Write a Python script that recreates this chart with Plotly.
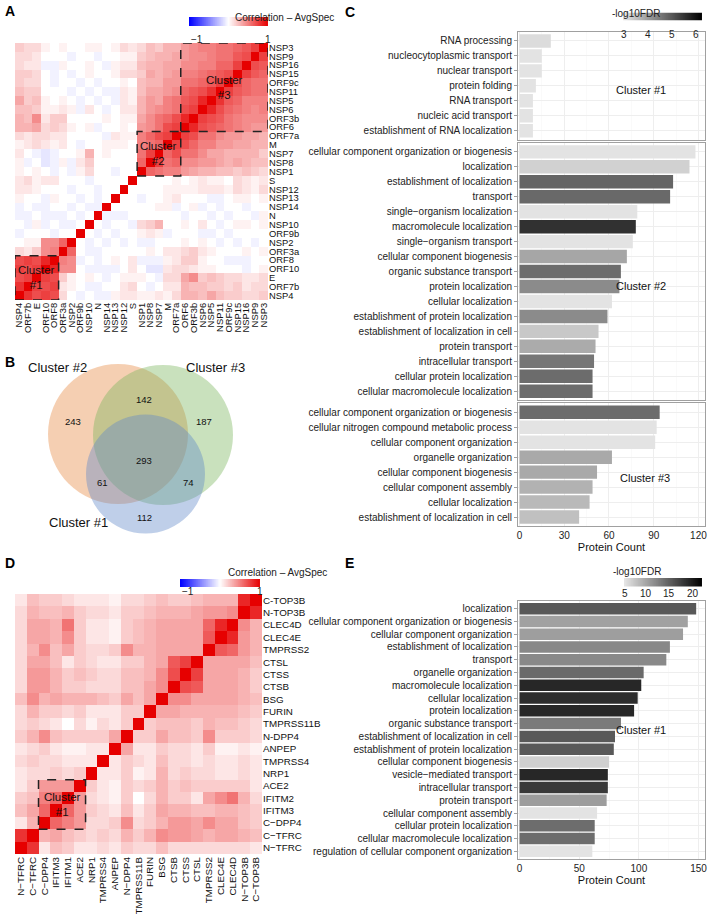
import numpy as np
import plotly.graph_objects as go

W, H = 709, 914
FONT = "Liberation Sans, Arial, Helvetica, sans-serif"


def px(x):
    return x / W


def py(y):
    return 1 - y / H


# ---------------- Panel A data ----------------
a_labels = ["NSP4", "ORF7b", "E", "ORF10", "ORF8", "ORF3a", "NSP2", "ORF9b", "NSP10", "N",
            "NSP14", "NSP13", "NSP12", "S", "NSP1", "NSP8", "NSP7", "M", "ORF7a", "ORF6",
            "ORF3b", "NSP6", "NSP5", "NSP11", "ORF9c", "NSP15", "NSP16", "NSP9", "NSP3"]
a_lower = [
    [1],
    [0.8, 1],
    [0.7, 0.75, 1],
    [0.75, 0.7, 0.75, 1],
    [0.7, 0.75, 0.7, 0.85, 1],
    [0.15, 0.1, 0.2, 0.45, 0.5, 1],
    [0.0, 0.05, 0.05, 0.45, 0.45, 0.6, 1],
    [-0.05, 0.0, 0.0, 0.0, -0.05, 0.0, 0.0, 1],
    [0.0, -0.05, 0.05, -0.05, 0.0, -0.05, -0.05, 0.0, 1],
    [-0.05, -0.05, 0.0, -0.05, -0.05, -0.05, 0.0, -0.05, 0.0, 1],
    [-0.05, 0.0, -0.05, -0.05, 0.0, 0.0, -0.05, 0.0, -0.05, -0.05, 1],
    [0.05, 0.0, 0.0, -0.05, 0.05, 0.0, 0.0, -0.05, 0.0, -0.05, 0.0, 1],
    [0.1, 0.1, 0.05, 0.0, 0.0, 0.0, -0.05, 0.0, 0.0, -0.05, 0.0, 0.0, 1],
    [0.1, 0.15, 0.05, 0.1, 0.1, 0.0, 0.0, 0.0, -0.05, 0.0, 0.0, 0.0, 0.0, 1],
    [0.05, 0.0, 0.05, 0.0, -0.05, 0.0, -0.05, 0.05, 0.15, 0.0, 0.0, -0.05, 0.0, 0.0, 1],
    [0.05, -0.05, 0.0, -0.1, -0.05, 0.05, -0.05, 0.1, 0.2, 0.0, 0.0, 0.0, 0.0, 0.0, 0.6, 1],
    [0.1, 0.0, -0.05, -0.1, -0.05, 0.0, 0.0, 0.05, 0.3, 0.0, 0.05, 0.0, 0.0, 0.0, 0.55, 0.75, 1],
    [0.05, 0.1, 0.15, 0.1, 0.05, 0.1, 0.0, -0.05, 0.0, 0.0, 0.05, 0.05, 0.05, 0.0, 0.5, 0.55, 0.6, 1],
    [0.15, 0.1, 0.15, 0.15, 0.1, 0.1, 0.0, 0.0, 0.0, 0.0, -0.05, 0.1, 0.05, 0.05, 0.5, 0.6, 0.7, 0.75, 1],
    [0.3, 0.3, 0.35, 0.15, 0.2, 0.15, 0.05, 0.0, 0.05, -0.05, 0.0, 0.0, 0.05, 0.0, 0.4, 0.45, 0.55, 0.7, 0.75, 1],
    [0.3, 0.25, 0.45, 0.1, 0.2, 0.2, 0.0, 0.0, 0.0, 0.0, 0.05, 0.0, 0.05, 0.05, 0.35, 0.45, 0.55, 0.6, 0.7, 0.85, 1],
    [0.25, 0.25, 0.2, 0.05, 0.05, 0.1, 0.05, -0.05, 0.1, 0.0, -0.05, 0.0, 0.1, 0.1, 0.3, 0.4, 0.45, 0.5, 0.55, 0.7, 0.75, 1],
    [0.35, 0.2, 0.25, 0.05, 0.0, 0.05, 0.0, -0.05, 0.0, -0.05, 0.0, -0.05, 0.1, 0.05, 0.3, 0.4, 0.35, 0.5, 0.55, 0.65, 0.7, 0.85, 1],
    [0.25, 0.2, 0.2, 0.0, 0.0, 0.0, -0.05, 0.0, -0.05, 0.0, -0.05, -0.05, 0.1, 0.05, 0.25, 0.35, 0.35, 0.4, 0.45, 0.6, 0.65, 0.7, 0.8, 1],
    [0.2, 0.15, 0.15, 0.0, -0.05, 0.0, 0.0, -0.05, 0.0, -0.05, 0.0, 0.0, 0.05, 0.0, 0.25, 0.3, 0.3, 0.4, 0.4, 0.55, 0.55, 0.6, 0.65, 0.75, 1],
    [0.2, 0.2, 0.15, 0.0, -0.05, 0.0, -0.05, 0.0, 0.05, 0.0, 0.0, 0.05, 0.15, 0.15, 0.2, 0.35, 0.3, 0.35, 0.4, 0.5, 0.5, 0.55, 0.6, 0.65, 0.7, 1],
    [0.15, 0.1, 0.1, -0.05, -0.05, 0.05, 0.0, 0.0, 0.05, 0.0, -0.05, 0.05, 0.1, 0.1, 0.25, 0.3, 0.3, 0.35, 0.35, 0.45, 0.45, 0.5, 0.5, 0.6, 0.6, 0.75, 1],
    [0.15, 0.15, 0.1, 0.0, 0.0, 0.0, -0.05, 0.0, 0.0, -0.05, 0.0, 0.0, 0.05, 0.05, 0.2, 0.25, 0.3, 0.3, 0.35, 0.4, 0.45, 0.45, 0.5, 0.55, 0.55, 0.65, 0.7, 1],
    [0.2, 0.15, 0.15, 0.05, 0.0, 0.05, 0.0, 0.0, 0.05, 0.05, 0.0, 0.05, 0.15, 0.1, 0.15, 0.25, 0.2, 0.3, 0.3, 0.4, 0.45, 0.5, 0.5, 0.55, 0.55, 0.6, 0.65, 0.75, 1],
]
a_clusters = [("Cluster<br>#1", 0, 4), ("Cluster<br>#2", 14, 18), ("Cluster<br>#3", 19, 28)]

# ---------------- Panel D data ----------------
d_x_labels = ["N\u2212TFRC", "C\u2212TFRC", "C\u2212DPP4", "IFITM3", "IFITM1", "ACE2", "NRP1", "TMPRSS4",
              "ANPEP", "N\u2212DPP4", "TMPRSS11B", "FURIN", "BSG", "CTSB", "CTSS", "CTSL", "TMPRSS2",
              "CLEC4E", "CLEC4D", "N\u2212TOP3B", "C\u2212TOP3B"]
d_y_labels = ["N\u2212TFRC", "C\u2212TFRC", "C\u2212DPP4", "IFITM3", "IFITM2", "ACE2", "NRP1", "TMPRSS4",
              "ANPEP", "N-DPP4", "TMPRSS11B", "FURIN", "BSG", "CTSB", "CTSS", "CTSL", "TMPRSS2",
              "CLEC4E", "CLEC4D", "N-TOP3B", "C-TOP3B"]
d_lower = [
    [1],
    [0.8, 1],
    [0.1, 0.3, 1],
    [0.25, 0.35, 0.6, 1],
    [0.2, 0.25, 0.5, 0.6, 1],
    [0.1, 0.2, 0.4, 0.4, 0.4, 1],
    [0.1, 0.15, 0.15, 0.2, 0.15, 0.2, 1],
    [0.15, 0.2, 0.15, 0.15, 0.1, 0.1, 0.1, 1],
    [0.1, 0.15, 0.2, 0.1, 0.05, 0.05, 0.1, 0.1, 1],
    [0.2, 0.3, 0.45, 0.25, 0.2, 0.2, 0.2, 0.2, 0.35, 1],
    [0.15, 0.2, 0.15, 0.1, 0.0, 0.15, 0.05, 0.15, 0.1, 0.2, 1],
    [0.15, 0.3, 0.2, 0.2, 0.15, 0.2, 0.1, 0.1, 0.1, 0.2, 0.2, 1],
    [0.25, 0.45, 0.3, 0.35, 0.3, 0.3, 0.3, 0.25, 0.2, 0.35, 0.25, 0.35, 1],
    [0.15, 0.4, 0.4, 0.3, 0.2, 0.2, 0.15, 0.15, 0.15, 0.25, 0.25, 0.35, 0.45, 1],
    [0.15, 0.4, 0.4, 0.3, 0.2, 0.25, 0.2, 0.15, 0.15, 0.25, 0.25, 0.3, 0.45, 0.7, 1],
    [0.15, 0.35, 0.35, 0.25, 0.1, 0.2, 0.15, 0.1, 0.1, 0.2, 0.2, 0.3, 0.35, 0.65, 0.75, 1],
    [0.15, 0.3, 0.45, 0.25, 0.35, 0.2, 0.15, 0.15, 0.2, 0.45, 0.3, 0.3, 0.35, 0.35, 0.35, 0.35, 1],
    [0.15, 0.35, 0.35, 0.3, 0.45, 0.2, 0.1, 0.1, 0.05, 0.2, 0.25, 0.3, 0.35, 0.35, 0.35, 0.35, 0.65, 1],
    [0.15, 0.35, 0.35, 0.3, 0.55, 0.2, 0.1, 0.1, 0.05, 0.2, 0.25, 0.3, 0.35, 0.35, 0.35, 0.35, 0.6, 0.85, 1],
    [0.15, 0.3, 0.25, 0.25, 0.3, 0.2, 0.15, 0.15, 0.1, 0.2, 0.2, 0.25, 0.3, 0.3, 0.3, 0.35, 0.4, 0.4, 0.45, 1],
    [0.1, 0.25, 0.2, 0.2, 0.15, 0.1, 0.1, 0.1, 0.05, 0.15, 0.15, 0.2, 0.25, 0.2, 0.2, 0.25, 0.3, 0.3, 0.3, 0.85, 1],
]
d_clusters = [("Cluster<br>#1", 2, 5)]
corr_ticks = [-1, 1]
corr_ticktext = ["\u22121", "1"]

# ---------------- Panel B data ----------------
venn_sets = ["Cluster #2", "Cluster #3", "Cluster #1"]
venn_counts = [243, 142, 187, 293, 61, 74, 112]

# ---------------- Panel C data ----------------
c1_terms = ["RNA processing", "nucleocytoplasmic transport", "nuclear transport", "protein folding",
            "RNA transport", "nucleic acid transport", "establishment of RNA localization"]
c1_counts = [21, 15, 15, 11, 9, 9, 9]
c1_fdr = [2.9, 2.8, 2.8, 2.8, 2.8, 2.8, 2.8]

c2_terms = ["cellular component organization or biogenesis", "localization", "establishment of localization",
            "transport", "single\u2212organism localization", "macromolecule localization",
            "single\u2212organism transport", "cellular component biogenesis", "organic substance transport",
            "protein localization", "cellular localization", "establishment of protein localization",
            "establishment of localization in cell", "protein transport", "intracellular transport",
            "cellular protein localization", "cellular macromolecule localization"]
c2_counts = [118, 114, 103, 101, 79, 78, 76, 72, 68, 67, 62, 59, 53, 51, 50, 49, 49]
c2_fdr = [2.8, 3.05, 4.6, 4.55, 2.8, 5.35, 2.8, 3.67, 4.5, 4.05, 2.8, 4.05, 3.18, 3.6, 4.35, 4.5, 4.5]

c3_terms = ["cellular component organization or biogenesis", "cellular nitrogen compound metabolic process",
            "cellular component organization", "organelle organization", "cellular component biogenesis",
            "cellular component assembly", "cellular localization", "establishment of localization in cell"]
c3_counts = [94, 92, 91, 62, 52, 49, 47, 40]
c3_fdr = [4.5, 2.8, 2.8, 3.62, 3.62, 3.5, 3.4, 3.3]
c_ticks = [0, 30, 60, 90, 120]
c_fdr_range = [2.75, 6.05]
c_fdr_ticks = [3, 4, 5, 6]

# ---------------- Panel E data ----------------
e_terms = ["localization", "cellular component organization or biogenesis", "cellular component organization",
           "establishment of localization", "transport", "organelle organization", "macromolecule localization",
           "cellular localization", "protein localization", "organic substance transport",
           "establishment of localization in cell", "establishment of protein localization",
           "cellular component biogenesis", "vesicle\u2212mediated transport", "intracellular transport",
           "protein transport", "cellular component assembly", "cellular protein localization",
           "cellular macromolecule localization", "regulation of cellular component organization"]
e_counts = [148, 141, 137, 126, 123, 104, 102, 99, 96, 85, 80, 79, 75, 74, 74, 73, 65, 63, 63, 61]
e_fdr = [13.9, 8.7, 8.9, 10.5, 10.4, 12.6, 17.4, 17.0, 17.4, 11.5, 13.8, 13.8, 5.3, 17.4, 16.1, 9.0,
         4.0, 12.4, 12.4, 4.0]
e_ticks = [0, 50, 100, 150]
e_fdr_range = [3.75, 20.2]
e_fdr_ticks = [5, 10, 15, 20]


def full(lower):
    n = len(lower)
    m = np.zeros((n, n))
    for i, row in enumerate(lower):
        for j, v in enumerate(row):
            m[i, j] = v
            m[j, i] = v
    return m


HEAT_CS = [[0, "#0000ff"], [0.5, "#ffffff"], [1, "#e60000"]]
GRAY_CS = [[0, "#e6e6e6"], [1, "#000000"]]

fig = go.Figure()
layout = dict(
    width=W, height=H, margin=dict(l=0, r=0, t=0, b=0, autoexpand=False),
    paper_bgcolor="white", plot_bgcolor="white", showlegend=False,
    font=dict(family=FONT, size=10, color="#111"),
    bargap=0.1,
)
shapes = []
annotations = []

# Panel A heatmap
zA = full(a_lower)
nA = len(a_labels)
fig.add_trace(go.Heatmap(z=zA, x=list(range(nA)), y=list(range(nA)), colorscale=HEAT_CS, zmin=-1, zmax=1,
                         xaxis="x", yaxis="y", hoverinfo="skip", showscale=False))

# Panel D heatmap
zD = full(d_lower)
nD = len(d_x_labels)
fig.add_trace(go.Heatmap(z=zD, x=list(range(nD)), y=list(range(nD)), colorscale=HEAT_CS, zmin=-1, zmax=1,
                         xaxis="x2", yaxis="y2", hoverinfo="skip", showscale=False))

# Venn placeholder trace
fig.add_trace(go.Scatter(x=[0], y=[0], mode="markers", marker=dict(opacity=0), xaxis="x3", yaxis="y3",
                         hoverinfo="skip"))

# Panel C bars
for terms, counts, fdr, xa, ya in [(c1_terms, c1_counts, c1_fdr, "x4", "y4"),
                                   (c2_terms, c2_counts, c2_fdr, "x5", "y5"),
                                   (c3_terms, c3_counts, c3_fdr, "x6", "y6")]:
    fig.add_trace(go.Bar(x=counts, y=terms, orientation="h", xaxis=xa, yaxis=ya, hoverinfo="skip",
                         marker=dict(color=fdr, colorscale=GRAY_CS, cmin=c_fdr_range[0], cmax=c_fdr_range[1],
                                     showscale=False, line=dict(width=0))))

# Panel E bars
fig.add_trace(go.Bar(x=e_counts, y=e_terms, orientation="h", xaxis="x7", yaxis="y7", hoverinfo="skip",
                     marker=dict(color=e_fdr, colorscale=GRAY_CS, cmin=e_fdr_range[0], cmax=e_fdr_range[1],
                                 showscale=False, line=dict(width=0))))


# Hand-drawn colour keys (gradient strips on their own small axes, labels as annotations on top)
def add_key(idx, x0, x1, y0, y1, vrange, cs, tickvals, ticktext, title, title_x, title_y, label_y):
    grad = np.linspace(vrange[0], vrange[1], 200)
    span = vrange[1] - vrange[0]
    fig.add_trace(go.Heatmap(z=[grad], x=grad, y=[0], colorscale=cs, zmin=vrange[0], zmax=vrange[1],
                             showscale=False, hoverinfo="skip", xaxis=f"x{idx}", yaxis=f"y{idx}"))
    layout[f"xaxis{idx}"] = dict(domain=[px(x0), px(x1)], range=[vrange[0] - span * 0.002, vrange[1] + span * 0.002],
                                 ticks="", showticklabels=False, showgrid=False, zeroline=False, showline=False,
                                 anchor=f"y{idx}", fixedrange=True)
    layout[f"yaxis{idx}"] = dict(domain=[py(y1), py(y0)], range=[-0.5, 0.5], visible=False,
                                 anchor=f"x{idx}", fixedrange=True)
    annotations.append(dict(text=title, xref="paper", yref="paper", x=px(title_x), y=py(title_y),
                            showarrow=False, font=dict(size=10, color="#222")))
    texts = ticktext if ticktext else [str(v) for v in tickvals]
    for v, t in zip(tickvals, texts):
        xv = x0 + (v - vrange[0]) / span * (x1 - x0)
        annotations.append(dict(text=t, xref="paper", yref="paper", x=px(xv), y=py(label_y),
                                showarrow=False, font=dict(size=10, color="#222")))


add_key(8, 189, 268, 17, 26, [-1, 1], HEAT_CS, corr_ticks, corr_ticktext, "Correlation \u2013 AvgSpec",
        233, 10, 31.5)
add_key(9, 180, 260, 579, 587, [-1, 1], HEAT_CS, corr_ticks, corr_ticktext, "Correlation \u2013 AvgSpec",
        226, 572, 591.5)
add_key(10, 623, 702, 12.5, 20.5, c_fdr_range, GRAY_CS, c_fdr_ticks, None, "-log10FDR", 662, 6, 26.5)
add_key(11, 624, 702, 578, 586.5, e_fdr_range, GRAY_CS, e_fdr_ticks, None, "-log10FDR", 663, 571, 593)


def heat_axes(xd, yd, xlabels, ylabels, anchor_x, anchor_y, fs):
    n = len(xlabels)
    xa = dict(domain=xd, range=[-0.5, n - 0.5], tickvals=list(range(n)), ticktext=xlabels, tickangle=-90,
              showgrid=False, zeroline=False, showline=False, ticks="", anchor=anchor_y,
              ticklabeloverflow="allow", tickfont=dict(size=fs, color="#111"), fixedrange=True)
    ya = dict(domain=yd, range=[-0.5, n - 0.5], tickvals=list(range(n)), ticktext=ylabels, side="right",
              showgrid=False, zeroline=False, showline=False, ticks="", anchor=anchor_x,
              ticklabeloverflow="allow", tickfont=dict(size=fs, color="#111"), fixedrange=True)
    return xa, ya


layout["xaxis"], layout["yaxis"] = heat_axes([px(15), px(268)], [py(300), py(43)], a_labels, a_labels,
                                             "x", "y", 9.4)
layout["xaxis2"], layout["yaxis2"] = heat_axes([px(15), px(262)], [py(854), py(594)], d_x_labels, d_y_labels,
                                               "x2", "y2", 9.8)

# Venn axes (1 unit = 1 pixel)
layout["xaxis3"] = dict(domain=[0, px(330)], range=[0, 330], visible=False, anchor="y3", fixedrange=True)
layout["yaxis3"] = dict(domain=[py(560), py(340)], range=[560, 340], visible=False, anchor="x3", fixedrange=True)


def bar_y(domain, terms, anchor):
    n = len(terms)
    return dict(domain=domain, type="category", categoryorder="array", categoryarray=terms,
                range=[n - 1 + 0.6, -0.6], showline=True, mirror=True, linecolor="#a0a0a0", linewidth=1,
                ticks="outside", ticklen=3, tickcolor="#a0a0a0", tickfont=dict(size=10, color="#222"),
                ticklabeloverflow="allow",
                showgrid=True, gridcolor="#eeeeee", gridwidth=1, zeroline=False, anchor=anchor,
                fixedrange=True)


def bar_x(domain, rng, ticks, anchor, show, title=None):
    step = ticks[1] - ticks[0]
    d = dict(domain=domain, range=rng, tickvals=ticks, showticklabels=show, showline=True, mirror=True,
             linecolor="#a0a0a0", linewidth=1, ticks="", ticklen=0, ticklabeloverflow="allow",
             tickfont=dict(size=10, color="#222"), showgrid=True, gridcolor="#eeeeee", gridwidth=1,
             zeroline=False, anchor=anchor, fixedrange=True,
             minor=dict(dtick=step, tick0=step / 2, showgrid=True, gridcolor="#f6f6f6", gridwidth=0.5, ticks=""))
    if title:
        d["title"] = dict(text=title, font=dict(size=11, color="#111"), standoff=0)
    return d


cx_dom = [px(518), px(705)]
c_rng = [-1.0, 124.4]
e_rng = [-1.26, 155.4]
layout["xaxis4"] = bar_x(cx_dom, c_rng, c_ticks, "y4", False)
layout["yaxis4"] = bar_y([py(139.7), py(32)], c1_terms, "x4")
layout["xaxis5"] = bar_x(cx_dom, c_rng, c_ticks, "y5", False)
layout["yaxis5"] = bar_y([py(400.2), py(142.9)], c2_terms, "x5")
layout["xaxis6"] = bar_x(cx_dom, c_rng, c_ticks, "y6", True, "Protein Count")
layout["yaxis6"] = bar_y([py(526), py(403.3)], c3_terms, "x6")
layout["xaxis7"] = bar_x(cx_dom, e_rng, e_ticks, "y7", True, "Protein Count")
layout["yaxis7"] = bar_y([py(859), py(601)], e_terms, "x7")

# Cluster boxes on heatmaps
for (label, i0, i1) in a_clusters:
    shapes.append(dict(type="rect", xref="x", yref="y", x0=i0 - 0.5, x1=i1 + 0.5, y0=i0 - 0.5, y1=i1 + 0.5,
                       line=dict(color="#222", width=1.5, dash="dash"), fillcolor="rgba(0,0,0,0)"))
    c = (i0 + i1) / 2
    annotations.append(dict(text=label, xref="x", yref="y", x=c, y=c, showarrow=False,
                            font=dict(size=11.5, color="#111")))
for (label, i0, i1) in d_clusters:
    shapes.append(dict(type="rect", xref="x2", yref="y2", x0=i0 - 0.5, x1=i1 + 0.5, y0=i0 - 0.5, y1=i1 + 0.5,
                       line=dict(color="#222", width=1.5, dash="dash"), fillcolor="rgba(0,0,0,0)"))
    c = (i0 + i1) / 2
    annotations.append(dict(text=label, xref="x2", yref="y2", x=c, y=c, showarrow=False,
                            font=dict(size=11.5, color="#111")))

# Venn circles (pixel geometry)
venn_circles = [((118, 434, 70), "rgba(232,140,72,0.42)"),
                ((163, 435, 70), "rgba(120,180,90,0.40)"),
                ((145.5, 474, 59.5), "rgba(95,135,200,0.40)")]
for (cx, cy, r), col in venn_circles:
    shapes.append(dict(type="circle", xref="x3", yref="y3", x0=cx - r, x1=cx + r, y0=cy - r, y1=cy + r,
                       line=dict(width=0), fillcolor=col))
venn_label_pos = [(57, 368), (215, 368), (78, 522)]
for name, (x, y) in zip(venn_sets, venn_label_pos):
    annotations.append(dict(text=name, xref="x3", yref="y3", x=x, y=y, showarrow=False,
                            font=dict(size=13, color="#111")))
venn_count_pos = [(73, 422), (144, 400), (204, 422), (144, 461), (102, 483), (188, 483), (144, 517)]
for v, (x, y) in zip(venn_counts, venn_count_pos):
    annotations.append(dict(text=str(v), xref="x3", yref="y3", x=x, y=y, showarrow=False,
                            font=dict(size=9.5, color="#111")))

# Facet labels
for text, (x, y) in [("Cluster #1", (668, 82)), ("Cluster #2", (668, 278)), ("Cluster #3", (672, 478)),
                     ("Cluster #1", (668, 738))]:
    annotations.append(dict(text=text, xref="paper", yref="paper", x=px(x), y=py(y), showarrow=False,
                            font=dict(size=11, color="#111")))

# Panel letters
for text, (x, y) in [("A", (3, 11)), ("B", (3, 362)), ("C", (343, 12)), ("D", (3, 563)), ("E", (343, 563))]:
    annotations.append(dict(text="<b>" + text + "</b>", xref="paper", yref="paper", x=px(x), y=py(y),
                            xanchor="left", yanchor="middle", showarrow=False,
                            font=dict(size=14, color="#000")))

layout["shapes"] = shapes
layout["annotations"] = annotations
fig.update_layout(**layout)
fig.write_html("out.html", config={"displayModeBar": False, "staticPlot": True},
               post_script="document.body.style.margin='0';document.body.style.overflow='hidden';")
